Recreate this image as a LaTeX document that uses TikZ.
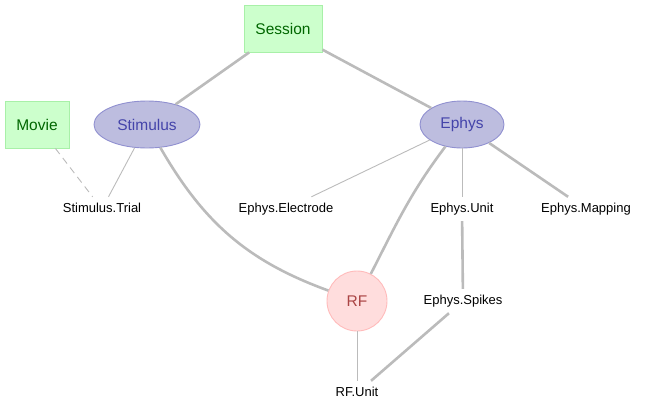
\documentclass[tikz,border=0pt]{standalone}
\usepackage{fontspec}
\setmainfont{Liberation Sans}
\usetikzlibrary{shapes.geometric}
\definecolor{gfill}{HTML}{CCFFCC}
\definecolor{gdraw}{HTML}{A8F0A8}
\definecolor{gtext}{HTML}{006600}
\definecolor{bfill}{HTML}{BDBDDF}
\definecolor{bdraw}{HTML}{9090D0}
\definecolor{btext}{HTML}{4444AA}
\definecolor{rfill}{HTML}{FFDDDD}
\definecolor{rdraw}{HTML}{FFBBBB}
\definecolor{rtext}{HTML}{AA4444}
\definecolor{edgec}{HTML}{BBBBBB}
\tikzset{
  manual/.style={rectangle, draw=gdraw, fill=gfill, text=gtext, line width=0.9pt, minimum height=47pt, font=\fontsize{15.5}{18}\selectfont, inner sep=0pt},
  imported/.style={ellipse, draw=bdraw, fill=bfill, text=btext, line width=0.9pt, minimum height=47pt, font=\fontsize{15.5}{18}\selectfont, inner sep=0pt},
  computed/.style={circle, draw=rdraw, fill=rfill, text=rtext, line width=0.9pt, minimum size=60pt, font=\fontsize{15.5}{18}\selectfont, inner sep=0pt},
  part/.style={rectangle, inner xsep=3pt, inner ysep=6pt, text height=9.5pt, text depth=2.5pt, font=\fontsize{13}{15}\selectfont, text=black},
  thickedge/.style={draw=edgec, line width=2.6pt},
  thinedge/.style={draw=edgec, line width=0.9pt},
  dashedge/.style={draw=edgec, line width=0.9pt, dash pattern=on 7pt off 5pt}
}
\begin{document}
\begin{tikzpicture}[x=1pt, y=-1pt]
\useasboundingbox (0,0) rectangle (648,413);
% edges first (behind nodes)
\node[manual, minimum width=78pt] (session) at (283,28.5) {Session};
\node[manual, minimum width=64pt] (movie) at (37,124.5) {Movie};
\node[imported, minimum width=106pt] (stimulus) at (147,124.5) {Stimulus};
\node[imported, minimum width=84pt] (ephys) at (462,124.5) {Ephys};
\node[part] (trial) at (102,209) {Stimulus.Trial};
\node[part] (electrode) at (286,209) {Ephys.Electrode};
\node[part] (unit) at (462,209) {Ephys.Unit};
\node[part] (mapping) at (586,209) {Ephys.Mapping};
\node[computed] (rf) at (357,301) {RF};
\node[part] (spikes) at (463,301) {Ephys.Spikes};
\node[part] (rfunit) at (357,393) {RF.Unit};
\begin{scope}[on background layer/.style={}]
\end{scope}
\draw[thickedge] (session) -- (stimulus);
\draw[thickedge] (session) -- (ephys);
\draw[dashedge] (movie) -- (trial);
\draw[thinedge] (stimulus) -- (trial);
\draw[thickedge] (stimulus) to[out=-60, in=160] (rf);
\draw[thinedge] (ephys) -- (electrode);
\draw[thickedge] (ephys) to[out=233, in=63] (rf);
\draw[thinedge] (ephys) -- (unit);
\draw[thickedge] (ephys) -- (mapping);
\draw[thickedge] (unit) -- (spikes);
\draw[thinedge] (rf) -- (rfunit);
\draw[thickedge] (spikes) -- (rfunit);
\end{tikzpicture}
\end{document}
